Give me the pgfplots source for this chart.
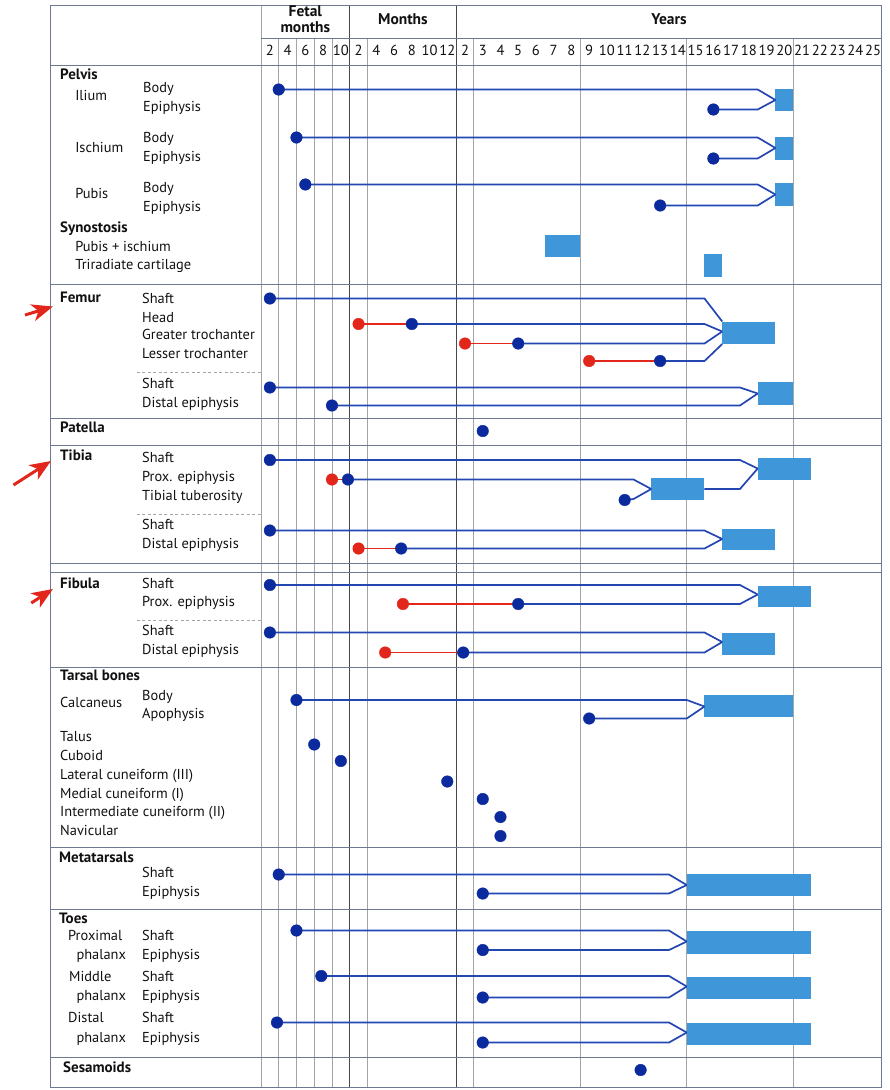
\documentclass[border=0pt]{standalone}
\usepackage{fontspec}
\setmainfont{PT Sans}
\usepackage{pgfplots}
\pgfplotsset{compat=1.18}
\usetikzlibrary{arrows.meta}
\definecolor{framec}{HTML}{6E7891}
\definecolor{gridc}{HTML}{A5A5A5}
\definecolor{grpc}{HTML}{484848}
\definecolor{lblue}{HTML}{2346B0}
\definecolor{dblue}{HTML}{0B2A9E}
\definecolor{rred}{HTML}{E3261C}
\definecolor{boxc}{HTML}{3F97DA}
\definecolor{txt}{HTML}{111111}
\tikzset{
  bl/.style={draw=lblue, line width=1.7pt, line join=miter},
  rl/.style={draw=rred, line width=1.7pt},
  bd/.style={only marks, mark=*, mark size=5.8pt, mark options={draw=dblue, fill=dblue}},
  rd/.style={only marks, mark=*, mark size=5.8pt, mark options={draw=rred, fill=rred}},
  bx/.style={fill=boxc, draw=none},
  lab/.style={anchor=mid west, inner sep=0pt, text=txt, font=\fontsize{14.4}{16}\selectfont},
  hd/.style={lab, font=\fontsize{15}{17}\selectfont\bfseries},
  num/.style={anchor=mid, inner sep=0pt, text=txt, font=\fontsize{14.6}{17}\selectfont},
  ttl/.style={anchor=mid, inner sep=0pt, text=txt, font=\fontsize{15.5}{17}\selectfont\bfseries},
  hline/.style={draw=framec, line width=0.9pt},
  gline/.style={draw=gridc, line width=0.8pt},
  kline/.style={draw=grpc, line width=1.2pt},
  redarrow/.style={draw=rred, fill=rred, line width=3pt, -{Stealth[length=21pt,width=17pt,inset=6pt]}},
}
\begin{document}
\begin{tikzpicture}
\begin{axis}[scale only axis, width=890pt, height=1090pt,
  xmin=-14.712, xmax=35.457, ymin=0, ymax=1090, y dir=reverse,
  hide axis, clip=false]
\path (axis cs:-14.712,0) rectangle (axis cs:35.457,1090);
% ---------- grid ----------
\pgfplotsinvokeforeach{1,...,4,6,...,10,12,...,34}{\draw[gline] (axis cs:#1,38) -- (axis cs:#1,1087);}
\draw[gline] (axis cs:0,5) -- (axis cs:0,1087);
\draw[kline] (axis cs:5,5) -- (axis cs:5,1087);
\draw[kline] (axis cs:11,5) -- (axis cs:11,1087);
\draw[hline] (axis cs:35,5) -- (axis cs:35,1087);
\draw[hline] (axis cs:-11.87,5) -- (axis cs:-11.87,1087);
\pgfplotsinvokeforeach{5,65,284.5,418.5,445,563,572.5,667,847.5,909,1057,1087}{\draw[hline] (axis cs:-11.87,#1) -- (axis cs:35,#1);}
\draw[hline] (axis cs:0,38) -- (axis cs:35,38);
\pgfplotsinvokeforeach{372.7,514.3,620.7}{\draw[gridc, line width=0.8pt, dash pattern=on 3pt off 2.5pt] (axis cs:-6.99,#1) -- (axis cs:0,#1);}
% ---------- header ----------
\node[ttl] at (axis cs:2.5,13.5) {Fetal};
\node[ttl] at (axis cs:2.5,30) {months};
\node[ttl] at (axis cs:8,22) {Months};
\node[ttl] at (axis cs:23,22) {Years};
\foreach \u/\l in {0.5/2,1.5/4,2.5/6,3.5/8,4.5/10,5.5/2,6.5/4,7.5/6,8.5/8,9.5/10,10.5/12,
  11.5/2,12.5/3,13.5/4,14.5/5,15.5/6,16.5/7,17.5/8,18.5/9,19.5/10,20.5/11,21.5/12,22.5/13,23.5/14,
  24.5/15,25.5/16,26.5/17,27.5/18,28.5/19,29.5/20,30.5/21,31.5/22,32.5/23,33.5/24,34.5/25}{
  \edef\tmp{\noexpand\node[num] at (axis cs:\u,53) {\l};}\tmp}
% ---------- row labels ----------
\node[hd] at (axis cs:-11.33,77) {Pelvis};
\node[lab] at (axis cs:-10.48,97.5) {Ilium};
\node[lab] at (axis cs:-6.65,90) {Body};
\node[lab] at (axis cs:-6.65,109) {Epiphysis};
\node[lab] at (axis cs:-10.48,150) {Ischium};
\node[lab] at (axis cs:-6.65,140) {Body};
\node[lab] at (axis cs:-6.65,159) {Epiphysis};
\node[lab] at (axis cs:-10.48,196) {Pubis};
\node[lab] at (axis cs:-6.65,190) {Body};
\node[lab] at (axis cs:-6.65,209) {Epiphysis};
\node[hd] at (axis cs:-11.33,229.5) {Synostosis};
\node[lab] at (axis cs:-10.48,248.5) {Pubis + ischium};
\node[lab] at (axis cs:-10.48,266.5) {Triradiate cartilage};
\node[hd] at (axis cs:-11.33,300) {Femur};
\node[lab] at (axis cs:-6.71,300.5) {Shaft};
\node[lab] at (axis cs:-6.71,319.5) {Head};
\node[lab] at (axis cs:-6.71,337) {Greater trochanter};
\node[lab] at (axis cs:-6.71,355.5) {Lesser trochanter};
\node[lab] at (axis cs:-6.71,386) {Shaft};
\node[lab] at (axis cs:-6.71,404.5) {Distal epiphysis};
\node[hd] at (axis cs:-11.33,430) {Patella};
\node[hd] at (axis cs:-11.33,457.5) {Tibia};
\node[lab] at (axis cs:-6.71,459.5) {Shaft};
\node[lab] at (axis cs:-6.71,478.5) {Prox. epiphysis};
\node[lab] at (axis cs:-6.71,497.5) {Tibial tuberosity};
\node[lab] at (axis cs:-6.71,526.5) {Shaft};
\node[lab] at (axis cs:-6.71,545.5) {Distal epiphysis};
\node[hd] at (axis cs:-11.33,585.5) {Fibula};
\node[lab] at (axis cs:-6.71,585.5) {Shaft};
\node[lab] at (axis cs:-6.71,604) {Prox. epiphysis};
\node[lab] at (axis cs:-6.71,632.5) {Shaft};
\node[lab] at (axis cs:-6.71,651.5) {Distal epiphysis};
\node[hd] at (axis cs:-11.33,677.5) {Tarsal bones};
\node[lab] at (axis cs:-11.33,704.5) {Calcaneus};
\node[lab] at (axis cs:-6.71,697.5) {Body};
\node[lab] at (axis cs:-6.71,715.5) {Apophysis};
\node[lab] at (axis cs:-11.33,739) {Talus};
\node[lab] at (axis cs:-11.33,757.5) {Cuboid};
\node[lab] at (axis cs:-11.33,776.5) {Lateral cuneiform (III)};
\node[lab] at (axis cs:-11.33,795.5) {Medial cuneiform (I)};
\node[lab] at (axis cs:-11.33,814) {Intermediate cuneiform (II)};
\node[lab] at (axis cs:-11.33,832.5) {Navicular};
\node[hd] at (axis cs:-11.39,859.5) {Metatarsals};
\node[lab] at (axis cs:-6.71,874.5) {Shaft};
\node[lab] at (axis cs:-6.71,893.5) {Epiphysis};
\node[hd] at (axis cs:-11.39,920.5) {Toes};
\node[lab] at (axis cs:-10.88,937.5) {Proximal};
\node[lab] at (axis cs:-10.41,956.5) {phalanx};
\node[lab] at (axis cs:-10.82,978.5) {Middle};
\node[lab] at (axis cs:-10.41,997.5) {phalanx};
\node[lab] at (axis cs:-10.88,1020) {Distal};
\node[lab] at (axis cs:-10.41,1039.5) {phalanx};
\node[lab] at (axis cs:-6.71,937.5) {Shaft};
\node[lab] at (axis cs:-6.71,956.5) {Epiphysis};
\node[lab] at (axis cs:-6.71,978.5) {Shaft};
\node[lab] at (axis cs:-6.71,997.5) {Epiphysis};
\node[lab] at (axis cs:-6.71,1020) {Shaft};
\node[lab] at (axis cs:-6.71,1039.5) {Epiphysis};
\node[hd] at (axis cs:-11.16,1070) {Sesamoids};
% ---------- red annotation arrows ----------
\draw[redarrow] (axis cs:-13.3,315) -- (axis cs:-11.73,306.5);
\draw[redarrow] (axis cs:-13.95,485) -- (axis cs:-11.84,461);
\draw[redarrow] (axis cs:-12.95,603) -- (axis cs:-11.73,589);
% ---------- ossification boxes ----------
\addplot[bx] coordinates {(29,89) (30,89) (30,111) (29,111)} -- cycle;
\addplot[bx] coordinates {(29,136.5) (30,136.5) (30,159.5) (29,159.5)} -- cycle;
\addplot[bx] coordinates {(29,182.5) (30,182.5) (30,205.5) (29,205.5)} -- cycle;
\addplot[bx] coordinates {(16,234.5) (18,234.5) (18,256.5) (16,256.5)} -- cycle;
\addplot[bx] coordinates {(25,254) (26,254) (26,277) (25,277)} -- cycle;
\addplot[bx] coordinates {(26,321.5) (29,321.5) (29,344) (26,344)} -- cycle;
\addplot[bx] coordinates {(28,382) (30,382) (30,404.5) (28,404.5)} -- cycle;
\addplot[bx] coordinates {(22,477.5) (25,477.5) (25,500) (22,500)} -- cycle;
\addplot[bx] coordinates {(28,457.5) (31,457.5) (31,479.5) (28,479.5)} -- cycle;
\addplot[bx] coordinates {(26,528.5) (29,528.5) (29,549.5) (26,549.5)} -- cycle;
\addplot[bx] coordinates {(28,585.5) (31,585.5) (31,606.5) (28,606.5)} -- cycle;
\addplot[bx] coordinates {(26,632.5) (29,632.5) (29,654.5) (26,654.5)} -- cycle;
\addplot[bx] coordinates {(25,695) (30,695) (30,717) (25,717)} -- cycle;
\addplot[bx] coordinates {(24,873.5) (31,873.5) (31,896) (24,896)} -- cycle;
\addplot[bx] coordinates {(24,930.5) (31,930.5) (31,953.5) (24,953.5)} -- cycle;
\addplot[bx] coordinates {(24,976.5) (31,976.5) (31,998.5) (24,998.5)} -- cycle;
\addplot[bx] coordinates {(24,1022.5) (31,1022.5) (31,1045) (24,1045)} -- cycle;
% ---------- blue connectors ----------
\addplot[bl] coordinates {(1,89.5) (28,89.5) (29,100)};
\addplot[bl] coordinates {(25.5,109.5) (28,109.5) (29,100)};
\addplot[bl] coordinates {(2,137.5) (28,137.5) (29,148)};
\addplot[bl] coordinates {(25.5,158.5) (28,158.5) (29,148)};
\addplot[bl] coordinates {(2.5,184.5) (28,184.5) (29,194.5)};
\addplot[bl] coordinates {(22.5,205.5) (28,205.5) (29,194.5)};
\addplot[bl] coordinates {(0.5,298.5) (25,298.5) (26,321.5)};
\addplot[bl] coordinates {(8.5,324) (25,324) (26,331.5)};
\addplot[bl] coordinates {(14.5,343.5) (25,343.5) (26,331.5)};
\addplot[bl] coordinates {(22.5,361) (25,361) (26,344)};
\addplot[bl] coordinates {(0.5,387.5) (27,387.5) (28,393.5)};
\addplot[bl] coordinates {(4,405.5) (27,405.5) (28,393.5)};
\addplot[bl] coordinates {(0.5,460) (27,460) (28,468.5)};
\addplot[bl] coordinates {(4.9,479.5) (21,479.5) (22,489)};
\addplot[bl] coordinates {(20.5,500) (21,499) (22,489)};
\addplot[bl] coordinates {(25,489) (27,489) (28,468.5)};
\addplot[bl] coordinates {(0.5,530.5) (25,530.5) (26,539)};
\addplot[bl] coordinates {(7.9,548.5) (25,548.5) (26,539)};
\addplot[bl] coordinates {(0.5,585) (27,585) (28,594.5)};
\addplot[bl] coordinates {(14.5,604) (27,604) (28,594.5)};
\addplot[bl] coordinates {(0.5,632.5) (25,632.5) (26,642)};
\addplot[bl] coordinates {(11.4,652.5) (25,652.5) (26,642)};
\addplot[bl] coordinates {(2,700) (24,700) (25,706.5)};
\addplot[bl] coordinates {(18.5,718.5) (24,718.5) (25,706.5)};
\addplot[bl] coordinates {(1,874.5) (23,874.5) (24,885)};
\addplot[bl] coordinates {(12.5,893.5) (23,893.5) (24,885)};
\addplot[bl] coordinates {(2,930.5) (23,930.5) (24,941.5)};
\addplot[bl] coordinates {(12.5,950) (23,950) (24,941.5)};
\addplot[bl] coordinates {(3.4,976) (23,976) (24,986.5)};
\addplot[bl] coordinates {(12.5,997.5) (23,997.5) (24,986.5)};
\addplot[bl] coordinates {(0.9,1022.5) (23,1022.5) (24,1032.5)};
\addplot[bl] coordinates {(12.5,1042.5) (23,1042.5) (24,1032.5)};
% ---------- red (cartilage) segments ----------
\addplot[rl] coordinates {(5.5,324) (8.5,324)};
\addplot[rl] coordinates {(11.5,343.5) (14.5,343.5)};
\addplot[rl] coordinates {(18.5,361) (22.5,361)};
\addplot[rl] coordinates {(4,479.5) (4.9,479.5)};
\addplot[rl] coordinates {(5.5,548.5) (7.9,548.5)};
\addplot[rl] coordinates {(8,604) (14.5,604)};
\addplot[rl] coordinates {(7,652.5) (11.4,652.5)};
% ---------- dots ----------
\addplot[rd] coordinates {(5.5,324) (11.5,343.5) (18.5,361) (4,479.5) (5.5,548.5) (8,604) (7,652.5)};
\addplot[bd] coordinates {(1,89.5) (25.5,109.5) (2,137.5) (25.5,158.5) (2.5,184.5) (22.5,205.5)
 (0.5,298.5) (8.5,324) (14.5,343.5) (22.5,361) (0.5,387.5) (4,405.5) (12.5,431)
 (0.5,460) (4.9,479.5) (20.5,500) (0.5,530.5) (7.9,548.5) (0.5,585) (14.5,604) (0.5,632.5) (11.4,652.5)
 (2,700) (18.5,718.5) (3,744.5) (4.5,761) (10.5,781.5) (12.5,799) (13.5,817) (13.5,836)
 (1,874.5) (12.5,893.5) (2,930.5) (12.5,950) (3.4,976) (12.5,997.5) (0.9,1022.5) (12.5,1042.5) (21.4,1070)};
\end{axis}
\end{tikzpicture}
\end{document}
